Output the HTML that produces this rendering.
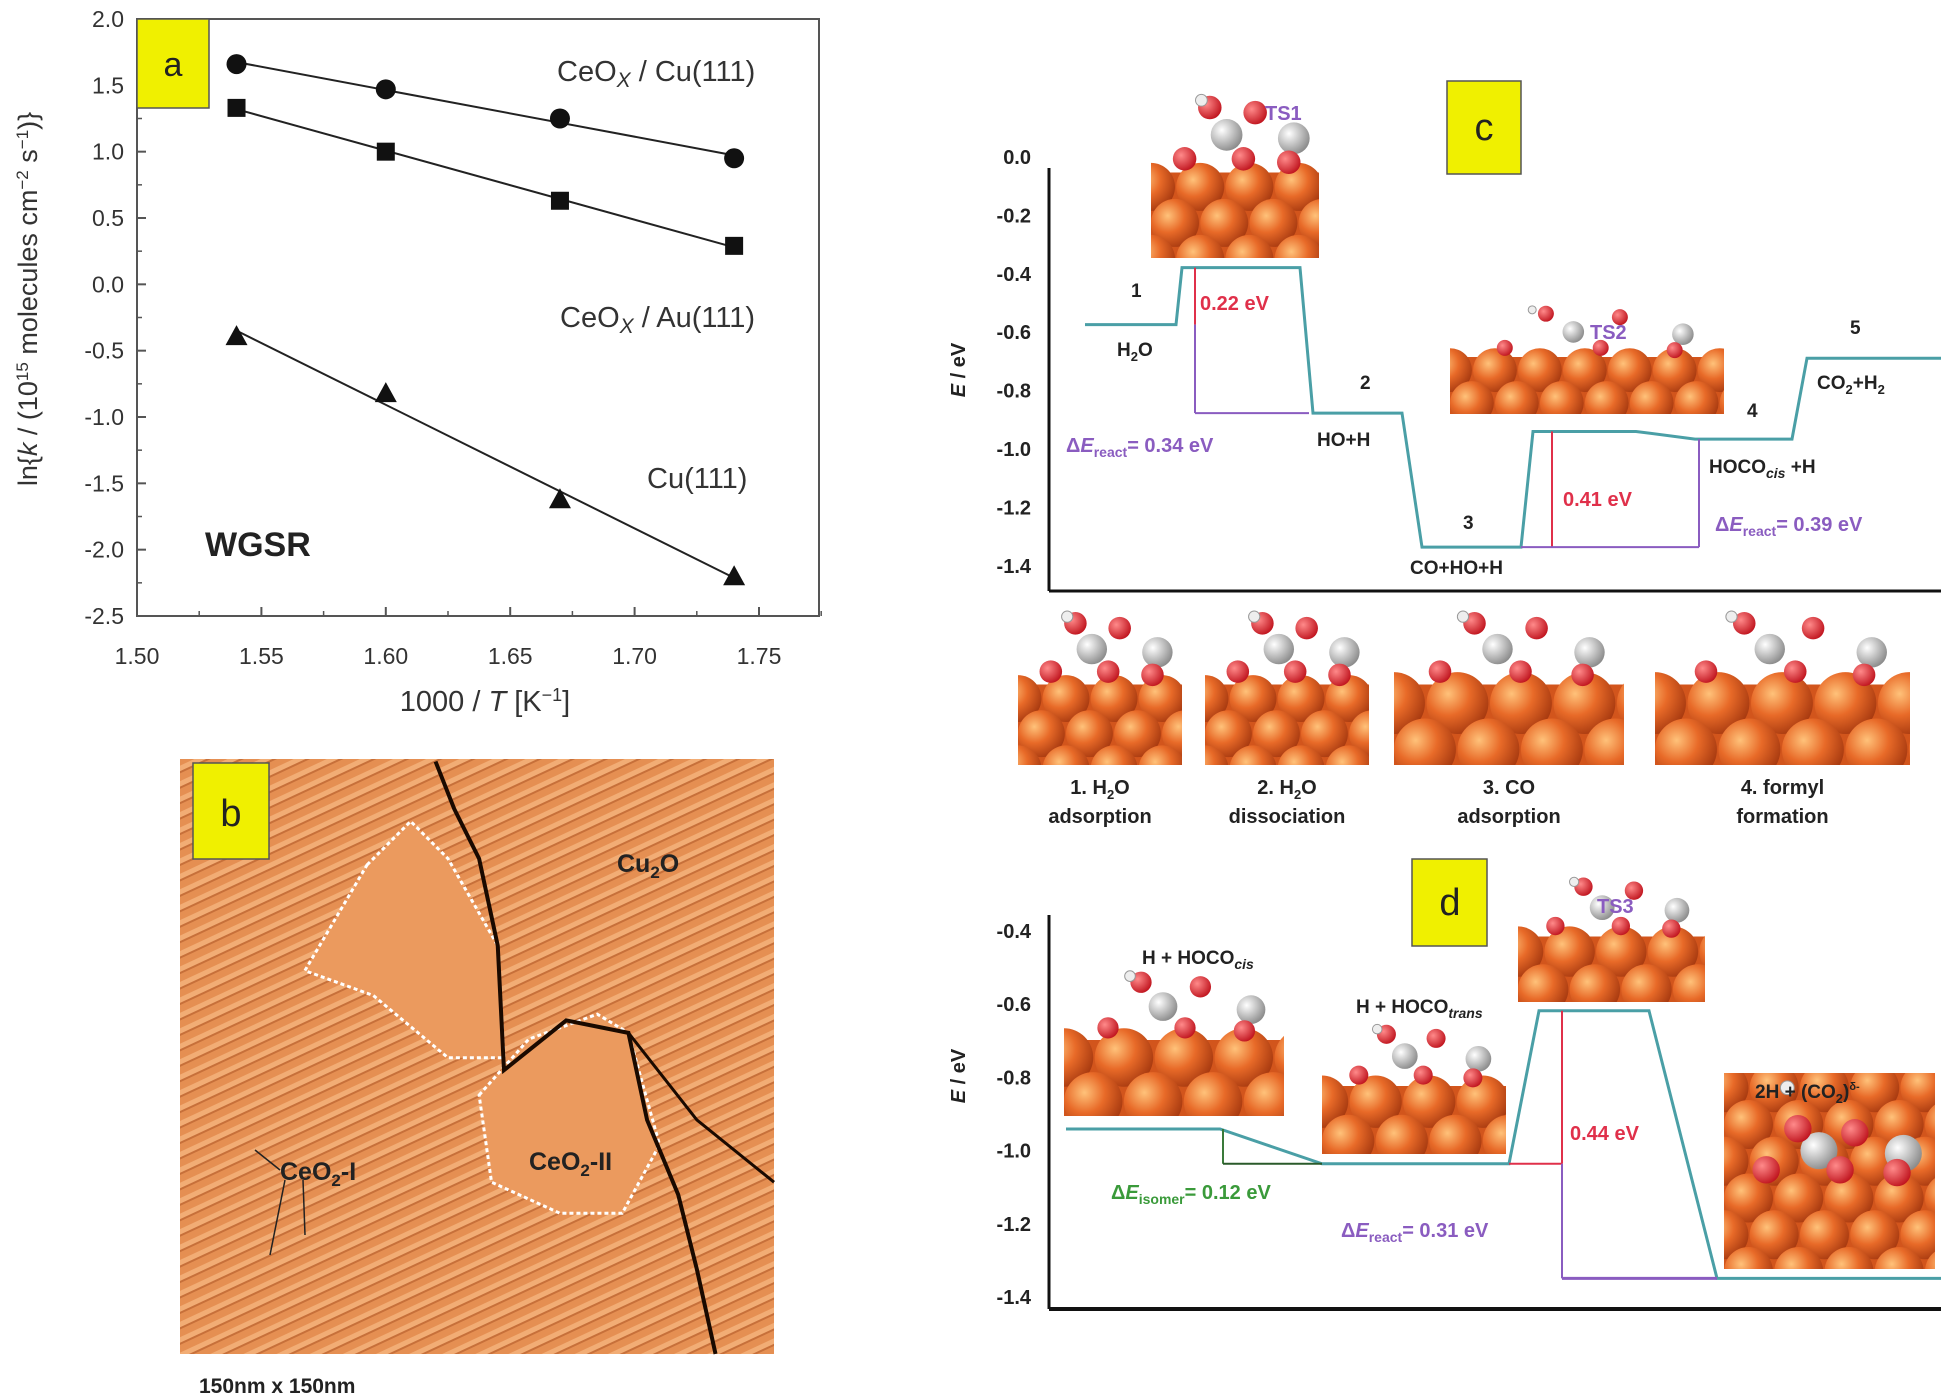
<!DOCTYPE html>
<html><head><meta charset="utf-8">
<style>
html,body{margin:0;padding:0;background:#fff;overflow:hidden;}
svg{display:block;font-family:"Liberation Sans",Arial,sans-serif;}
</style></head>
<body>
<svg id="fig" width="1950" height="1398" viewBox="0 0 1950 1398" xmlns="http://www.w3.org/2000/svg">
<defs>
<pattern id="stripes" patternUnits="userSpaceOnUse" width="14" height="14" patternTransform="rotate(-25)">
<rect width="14" height="14" fill="#e58f52"/>
<rect width="14" height="5" fill="#f2ad75"/>
<rect y="5" width="14" height="2" fill="#c7703a"/>
</pattern>
<radialGradient id="cu" cx="0.35" cy="0.35" r="0.7"><stop offset="0" stop-color="#ffc27a"/><stop offset="0.5" stop-color="#e86a28"/><stop offset="1" stop-color="#a83a10"/></radialGradient>
<radialGradient id="ox" cx="0.35" cy="0.35" r="0.7"><stop offset="0" stop-color="#ff8a8a"/><stop offset="1" stop-color="#c0141e"/></radialGradient>
<radialGradient id="ce" cx="0.35" cy="0.35" r="0.7"><stop offset="0" stop-color="#ffffff"/><stop offset="1" stop-color="#8a8a8a"/></radialGradient>
</defs>
<g id="panelA"></g>
<g id="panelB"></g>
<g id="panelC"></g>
<g id="panelD"></g>
</svg>
<script>
// ---------- Panel a data ----------
const xValsA = [1.54, 1.60, 1.67, 1.74];
const cuCeO = [1.66, 1.47, 1.25, 0.95];
const auCeO = [1.33, 1.00, 0.63, 0.29];
const cu111 = [-0.39, -0.82, -1.62, -2.20];
const yTicksA = [2.0, 1.5, 1.0, 0.5, 0.0, -0.5, -1.0, -1.5, -2.0, -2.5];
const xTicksA = [1.50, 1.55, 1.60, 1.65, 1.70, 1.75];

// ---------- Panel c data ----------
const cTicks = [0.0, -0.2, -0.4, -0.6, -0.8, -1.0, -1.2, -1.4];
const cPathX = [1085, 1176, 1182, 1300, 1313, 1402, 1422, 1521, 1533, 1636, 1695, 1792, 1807, 1941];
const cPathE = [-0.574, -0.574, -0.379, -0.379, -0.877, -0.877, -1.336, -1.336, -0.94, -0.94, -0.966, -0.966, -0.689, -0.689];

// ---------- Panel d data ----------
const dTicks = [-0.4, -0.6, -0.8, -1.0, -1.2, -1.4];
const dPathX = [1066, 1220, 1322, 1509, 1539, 1649, 1717, 1941];
const dPathE = [-0.941, -0.941, -1.036, -1.036, -0.618, -0.618, -1.349, -1.349];

const NS = "http://www.w3.org/2000/svg";
function el(parent, tag, attrs, text) {
  const e = document.createElementNS(NS, tag);
  for (const k in attrs) e.setAttribute(k, attrs[k]);
  if (text !== undefined) e.textContent = text;
  parent.appendChild(e);
  return e;
}

// ================= PANEL A =================
(function(){
  const g = document.getElementById('panelA');
  const L=137, R=819, T=19, B=616;
  const xS = v => 137 + (v-1.50)/0.25*(759-137);
  const yS = v => 19 + (2.0-v)/4.5*(616-19);
  const frame = el(g,'rect',{x:L,y:T,width:R-L,height:B-T,fill:'none',stroke:'#555','stroke-width':2});
  
  
  yTicksA.forEach(v=>{
    const y=yS(v);
    const t=el(g,'line',{x1:L,y1:y,x2:L+9,y2:y,stroke:'#555','stroke-width':2});
    
    
    const lb=el(g,'text',{x:124,y:y+8,'text-anchor':'end','font-size':23,fill:'#333'},v.toFixed(1));
    
    
    if (v>-2.5){
      const m=el(g,'line',{x1:L,y1:yS(v-0.25),x2:L+5,y2:yS(v-0.25),stroke:'#555','stroke-width':1.5});
      
      
    }
  });
  xTicksA.forEach(v=>{
    const x=xS(v);
    const t=el(g,'line',{x1:x,y1:B,x2:x,y2:B-9,stroke:'#555','stroke-width':2});
    
    
    const m=el(g,'line',{x1:xS(v+0.025),y1:B,x2:xS(v+0.025),y2:B-5,stroke:'#555','stroke-width':1.5});
    
    
    const lb=el(g,'text',{x:x,y:664,'text-anchor':'middle','font-size':23,fill:'#333'},v.toFixed(2));
    
    
  });
  const xt=el(g,'text',{x:485,y:711,'text-anchor':'middle','font-size':29,fill:'#333'});
  
  
  xt.innerHTML='1000 / <tspan font-style="italic">T</tspan> [K<tspan baseline-shift="super" font-size="18">−1</tspan>]';
  const yt=el(g,'text',{x:0,y:0,'text-anchor':'middle','font-size':27,fill:'#333',transform:'translate(37,299) rotate(-90)'});
  
  
  yt.innerHTML='ln{<tspan font-style="italic">k</tspan> / (10<tspan baseline-shift="super" font-size="17">15</tspan> molecules cm<tspan baseline-shift="super" font-size="17">−2</tspan> s<tspan baseline-shift="super" font-size="17">−1</tspan>)}';
  function fit(ys){
    const n=xValsA.length; let sx=0,sy=0,sxx=0,sxy=0;
    for(let i=0;i<n;i++){sx+=xValsA[i];sy+=ys[i];sxx+=xValsA[i]*xValsA[i];sxy+=xValsA[i]*ys[i];}
    const b=(n*sxy-sx*sy)/(n*sxx-sx*sx), a=(sy-b*sx)/n; return [a,b];
  }
  function series(ys,shape,name){
    const [a,b]=fit(ys);
    const x0=xValsA[0], x1=xValsA[xValsA.length-1];
    const ln=el(g,'line',{x1:xS(x0),y1:yS(a+b*x0),x2:xS(x1),y2:yS(a+b*x1),stroke:'#222','stroke-width':2});
    
    
    ys.forEach((v,i)=>{
      const x=xS(xValsA[i]), y=yS(v); let m;
      if(shape==='c') m=el(g,'circle',{cx:x,cy:y,r:10,fill:'#111'});
      else if(shape==='s') m=el(g,'rect',{x:x-9,y:y-9,width:18,height:18,fill:'#111'});
      else m=el(g,'polygon',{points:`${x},${y-11} ${x-11},${y+9} ${x+11},${y+9}`,fill:'#111'});
      
      
    });
  }
  series(cuCeO,'c','ceox-cu111');
  series(auCeO,'s','ceox-au111');
  series(cu111,'t','cu111');
  const box=el(g,'rect',{x:137,y:19,width:72,height:89,fill:'#f0f000',stroke:'#555','stroke-width':1.5});
  
  
  const bl=el(g,'text',{x:173,y:76,'text-anchor':'middle','font-size':34,fill:'#222'},'a');
  
  
  const labs=[[557,81,'CeO','Cu(111)','label-ceox-cu111'],[560,327,'CeO','Au(111)','label-ceox-au111']];
  labs.forEach(l=>{
    const t=el(g,'text',{x:l[0],y:l[1],'font-size':29,fill:'#333'});
    
    
    t.innerHTML=l[2]+'<tspan font-style="italic" font-size="21" dy="6">X</tspan><tspan dy="-6"> / '+l[3]+'</tspan>';
  });
  const c=el(g,'text',{x:647,y:488,'font-size':29,fill:'#333'},'Cu(111)');
  
  
  const w=el(g,'text',{x:205,y:556,'font-size':34,'font-weight':'bold',fill:'#222'},'WGSR');
  
  
})();

// ================= PANEL B =================
(function(){
  const g=document.getElementById('panelB');
  const s=1.2444;
  const img=el(g,'rect',{x:180,y:759,width:594,height:595,fill:'url(#stripes)'});
  
  
  const isl=[[[295,695],[330,660],[360,690],[400,760],[405,850],[360,850],[300,800],[245,780]],
             [[385,880],[425,835],[480,815],[505,830],[530,920],[500,975],[450,975],[395,950]]];
  isl.forEach(p=>{
    const pg=el(g,'polygon',{points:p.map(q=>(q[0]*s)+','+(q[1]*s)).join(' '),fill:'#eb9a5e',stroke:'#fff','stroke-width':3,'stroke-dasharray':'4 3'});
    
    
  });
  const crack=[[350,612],[365,650],[385,690],[400,760],[405,860],[455,820],[505,830],[520,900],[545,960],[560,1020],[575,1088]];
  const cr=el(g,'polyline',{points:crack.map(q=>(q[0]*s)+','+(q[1]*s)).join(' '),fill:'none',stroke:'#1a0a00','stroke-width':4});
  
  
  const cr2=el(g,'polyline',{points:[[505,830],[560,900],[622,950]].map(q=>(q[0]*s)+','+(q[1]*s)).join(' '),fill:'none',stroke:'#1a0a00','stroke-width':3});
  
  
  const box=el(g,'rect',{x:193,y:763,width:76,height:96,fill:'#f0f000',stroke:'#555','stroke-width':1.5});
  
  
  const bl=el(g,'text',{x:231,y:826,'text-anchor':'middle','font-size':38,fill:'#222'},'b');
  
  
  const t1=el(g,'text',{x:617,y:872,'font-size':25,'font-weight':'bold',fill:'#222'});
  t1.innerHTML='Cu<tspan font-size="17" dy="6">2</tspan><tspan dy="-6">O</tspan>';
  
  
  const t2=el(g,'text',{x:280,y:1180,'font-size':25,'font-weight':'bold',fill:'#222'});
  t2.innerHTML='CeO<tspan font-size="17" dy="6">2</tspan><tspan dy="-6">-I</tspan>';
  
  
  const t3=el(g,'text',{x:529,y:1170,'font-size':25,'font-weight':'bold',fill:'#222'});
  t3.innerHTML='CeO<tspan font-size="17" dy="6">2</tspan><tspan dy="-6">-II</tspan>';
  
  
  [[280,1170,255,1150],[285,1180,270,1255],[303,1180,305,1235]].forEach(a=>{
    const l=el(g,'line',{x1:a[0],y1:a[1],x2:a[2],y2:a[3],stroke:'#222','stroke-width':1.5});
    
    
  });
  const sc=el(g,'text',{x:199,y:1393,'font-size':21,'font-weight':'bold',fill:'#222'},'150nm x 150nm');
  
  
})();

// molecule illustration helper (clipped to its box)
function molecule(g,x,y,w,h,name,dense){
  const grp=el(g,'svg',{x:x,y:y,width:w,height:h,viewBox:`0 0 ${w} ${h}`,overflow:'hidden'});
  
  
  const slabTop=dense? 0 : h*0.5;
  el(grp,'rect',{x:0,y:slabTop,width:w,height:h-slabTop,fill:'#d2551c'});
  const r=dense? h/8 : Math.min((h-slabTop)/2.6, w/7);
  for(let row=0; slabTop+r*row*1.5 < h+r; row++){
    for(let cx=(row%2)*r; cx<w+r; cx+=r*2.05){
      el(grp,'circle',{cx:cx,cy:slabTop+r*0.6+row*r*1.5,r:r,fill:'url(#cu)'});
    }
  }
  const rel=[[0.2,0.42,'ox'],[0.45,0.28,'ce'],[0.55,0.42,'ox'],[0.62,0.15,'ox'],[0.35,0.12,'ox'],[0.85,0.3,'ce'],[0.82,0.44,'ox']];
  const br=Math.min(w,h)*0.07;
  rel.forEach(p=>{
    el(grp,'circle',{cx:p[0]*w,cy:(dense?h*0.2:0)+p[1]*h*(dense?0.7:1),r:p[2]==='ce'?br*1.35:br,fill:'url(#'+p[2]+')'});
  });
  el(grp,'circle',{cx:0.3*w,cy:0.06*h+3,r:br*0.5,fill:'#eee',stroke:'#999'});
}

function txt(g,x,y,size,color,html,name,anchor){
  const t=el(g,'text',{x:x,y:y,'font-size':size,'font-weight':'bold',fill:color,'text-anchor':anchor||'start'});
  t.innerHTML=html;
  
  
  return t;
}
function seg(g,x1,y1,x2,y2,color,w,name){
  const l=el(g,'line',{x1:x1,y1:y1,x2:x2,y2:y2,stroke:color,'stroke-width':w});
  
  
  return l;
}
const TEAL='#4a9fa6', RED='#e0304a', PUR='#8a5cc0';

// ================= PANEL C =================
(function(){
  const g=document.getElementById('panelC');
  const yS = e => 157 + (0-e)/0.2*58.4;
  molecule(g,1151,87,168,171,'ts1-structure',false);
  molecule(g,1450,300,274,114,'ts2-structure',false);
  seg(g,1049,168,1049,591,'#111',3,'y-axis-line');
  seg(g,1049,591,1941,591,'#111',3,'x-axis-line');
  cTicks.forEach(v=>{
    txt(g,1031,yS(v)+7,20,'#222',v.toFixed(1),'y-tick-label','end');
  });
  const yt=el(g,'text',{x:0,y:0,'font-size':20,'font-weight':'bold',fill:'#222','text-anchor':'middle',transform:'translate(965,370) rotate(-90)'});
  yt.innerHTML='<tspan font-style="italic">E</tspan> / eV';
  
  
  const p=el(g,'polyline',{points:cPathX.map((x,i)=>x+','+yS(cPathE[i])).join(' '),fill:'none',stroke:TEAL,'stroke-width':3});
  
  
  seg(g,1195,yS(cPathE[2]),1195,yS(cPathE[0]),RED,2,'barrier-arrow-ts1');
  seg(g,1195,yS(cPathE[0]),1195,yS(cPathE[4]),PUR,2,'react-arrow-1');
  seg(g,1195,yS(cPathE[4]),1309,yS(cPathE[4]),PUR,2,'react-ref-1');
  seg(g,1552,yS(cPathE[8]),1552,yS(cPathE[6]),RED,2,'barrier-arrow-ts2');
  seg(g,1699,yS(cPathE[10]),1699,yS(cPathE[6]),PUR,2,'react-arrow-2');
  seg(g,1521,yS(cPathE[6]),1699,yS(cPathE[6]),PUR,2,'react-ref-2');
  txt(g,1200,310,20,RED,'0.22 eV','barrier-label-022');
  txt(g,1066,452,20,PUR,'Δ<tspan font-style="italic">E</tspan><tspan font-size="14" dy="5">react</tspan><tspan dy="-5">= 0.34 eV</tspan>','react-label-034');
  txt(g,1131,297,19,'#222','1','state-1-label');
  txt(g,1117,356,19,'#222','H<tspan font-size="13" dy="5">2</tspan><tspan dy="-5">O</tspan>','h2o-label');
  txt(g,1360,389,19,'#222','2','state-2-label');
  txt(g,1317,446,19,'#222','HO+H','ho-h-label');
  txt(g,1463,529,19,'#222','3','state-3-label');
  txt(g,1410,574,19,'#222','CO+HO+H','co-ho-h-label');
  txt(g,1563,506,20,RED,'0.41 eV','barrier-label-041');
  txt(g,1747,417,19,'#222','4','state-4-label');
  txt(g,1709,473,19,'#222','HOCO<tspan font-style="italic" font-size="14" dy="5">cis</tspan><tspan dy="-5"> +H</tspan>','hococis-h-label');
  txt(g,1715,531,20,PUR,'Δ<tspan font-style="italic">E</tspan><tspan font-size="14" dy="5">react</tspan><tspan dy="-5">= 0.39 eV</tspan>','react-label-039');
  txt(g,1850,334,19,'#222','5','state-5-label');
  txt(g,1817,389,19,'#222','CO<tspan font-size="13" dy="5">2</tspan><tspan dy="-5">+H</tspan><tspan font-size="13" dy="5">2</tspan>','co2-h2-label');
  txt(g,1265,120,20,PUR,'TS1','ts1-label');
  txt(g,1590,339,20,PUR,'TS2','ts2-label');
  const box=el(g,'rect',{x:1447,y:81,width:74,height:93,fill:'#f0f000',stroke:'#555','stroke-width':1.5});
  
  
  const bl=el(g,'text',{x:1484,y:140,'text-anchor':'middle','font-size':38,fill:'#222'},'c');
  
  
  const bottom=[[1018,164,'1. H<tspan font-size="13" dy="5">2</tspan><tspan dy="-5">O</tspan>','adsorption','step-1'],
                [1205,164,'2. H<tspan font-size="13" dy="5">2</tspan><tspan dy="-5">O</tspan>','dissociation','step-2'],
                [1394,230,'3. CO','adsorption','step-3'],
                [1655,255,'4. formyl','formation','step-4']];
  bottom.forEach(b=>{
    molecule(g,b[0],604,b[1],161,b[4]+'-structure',false);
    txt(g,b[0]+b[1]/2,794,20,'#222',b[2],b[4]+'-caption-1','middle');
    txt(g,b[0]+b[1]/2,823,20,'#222',b[3],b[4]+'-caption-2','middle');
  });
})();

// ================= PANEL D =================
(function(){
  const g=document.getElementById('panelD');
  const yS = e => 931 + (-0.4-e)/0.2*73.2;
  molecule(g,1064,964,220,152,'hococis-structure',false);
  molecule(g,1322,1018,184,136,'hocotrans-structure',false);
  molecule(g,1518,871,187,131,'ts3-structure',false);
  molecule(g,1724,1073,211,196,'co2-structure',true);
  seg(g,1049,915,1049,1309,'#111',3,'y-axis-line');
  seg(g,1049,1309,1941,1309,'#111',4,'x-axis-line');
  dTicks.forEach(v=>{
    txt(g,1031,yS(v)+7,20,'#222',v.toFixed(1),'y-tick-label','end');
  });
  const yt=el(g,'text',{x:0,y:0,'font-size':20,'font-weight':'bold',fill:'#222','text-anchor':'middle',transform:'translate(965,1076) rotate(-90)'});
  yt.innerHTML='<tspan font-style="italic">E</tspan> / eV';
  
  
  const p=el(g,'polyline',{points:dPathX.map((x,i)=>x+','+yS(dPathE[i])).join(' '),fill:'none',stroke:TEAL,'stroke-width':3});
  
  
  seg(g,1223,yS(dPathE[0]),1223,yS(dPathE[2]),'#3a7a3a',2,'isomer-arrow');
  seg(g,1223,yS(dPathE[2]),1322,yS(dPathE[2]),'#2a5a2a',2,'isomer-ref');
  seg(g,1509,yS(dPathE[2]),1562,yS(dPathE[2]),RED,2,'barrier-ref');
  seg(g,1562,yS(dPathE[4]),1562,yS(dPathE[2]),RED,2,'barrier-arrow-ts3');
  seg(g,1562,yS(dPathE[2]),1562,yS(dPathE[6]),PUR,2,'react-arrow-3');
  seg(g,1562,yS(dPathE[6]),1717,yS(dPathE[6]),PUR,3,'react-ref-3');
  txt(g,1570,1140,20,RED,'0.44 eV','barrier-label-044');
  txt(g,1111,1199,20,'#3a9a3a','Δ<tspan font-style="italic">E</tspan><tspan font-size="14" dy="5">isomer</tspan><tspan dy="-5">= 0.12 eV</tspan>','isomer-label-012');
  txt(g,1341,1237,20,PUR,'Δ<tspan font-style="italic">E</tspan><tspan font-size="14" dy="5">react</tspan><tspan dy="-5">= 0.31 eV</tspan>','react-label-031');
  txt(g,1142,964,19,'#222','H + HOCO<tspan font-style="italic" font-size="14" dy="5">cis</tspan>','h-hococis-label');
  txt(g,1356,1013,19,'#222','H + HOCO<tspan font-style="italic" font-size="14" dy="5">trans</tspan>','h-hocotrans-label');
  txt(g,1597,913,20,PUR,'TS3','ts3-label');
  txt(g,1755,1098,19,'#222','2H + (CO<tspan font-size="13" dy="5">2</tspan><tspan dy="-5">)</tspan><tspan font-size="11" dy="-8">δ-</tspan>','2h-co2-label');
  const box=el(g,'rect',{x:1412,y:859,width:75,height:87,fill:'#f0f000',stroke:'#555','stroke-width':1.5});
  
  
  const bl=el(g,'text',{x:1450,y:915,'text-anchor':'middle','font-size':38,fill:'#222'},'d');
  
  
})();
</script>
</body></html>
